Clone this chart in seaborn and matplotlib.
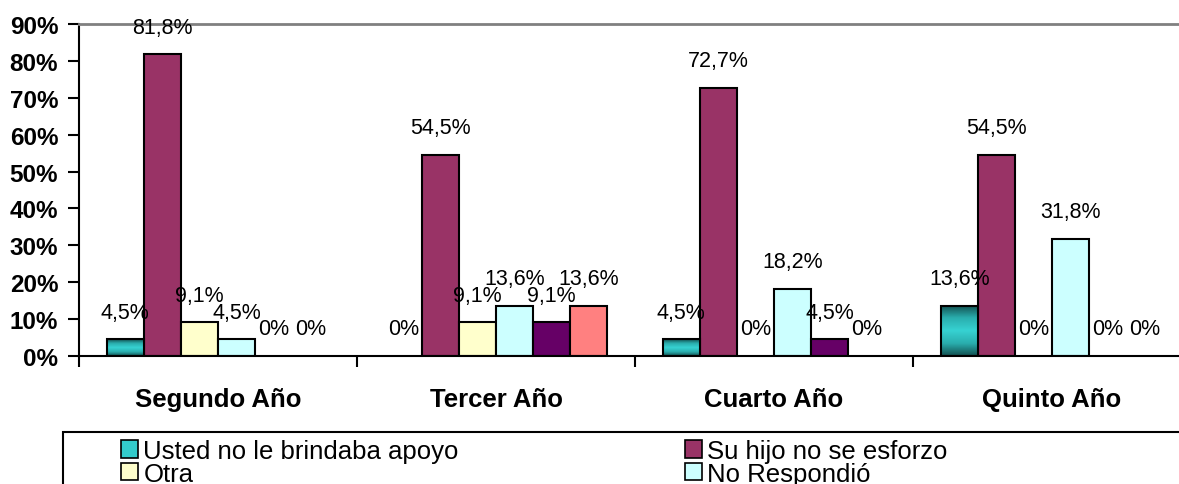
import numpy as np
import pandas as pd
import matplotlib
matplotlib.use("Agg")
import matplotlib.pyplot as plt
from matplotlib.patches import Patch, Rectangle
from matplotlib.colors import LinearSegmentedColormap
import seaborn as sns

# --- data -------------------------------------------------------------
years = ["Segundo Año", "Tercer Año", "Cuarto Año", "Quinto Año"]
series = ["Usted no le brindaba apoyo", "Su hijo no se esforzo", "Otra",
          "No Respondió", "Serie 5", "Serie 6"]
apoyo = [4.5, 0.0, 4.5, 13.6]
esfuerzo = [81.8, 54.5, 72.7, 54.5]
otra = [9.1, 9.1, 0.0, 0.0]
no_respondio = [4.5, 13.6, 18.2, 31.8]
serie5 = [0.0, 9.1, 4.5, 0.0]
serie6 = [0.0, 13.6, 0.0, 0.0]
yticks = [0, 10, 20, 30, 40, 50, 60, 70, 80, 90]

colors = ["#33CCCC", "#993366", "#FFFFCC", "#CCFFFF", "#660066", "#FF8080"]

values = [apoyo, esfuerzo, otra, no_respondio, serie5, serie6]
df = pd.DataFrame(
    [(y, s, v[i]) for s, v in zip(series, values) for i, y in enumerate(years)],
    columns=["Año", "Motivo", "Porcentaje"],
)

# --- figure -----------------------------------------------------------
sns.set_style("white")
plt.rcParams["font.family"] = ["Liberation Sans", "DejaVu Sans"]
plt.rcParams.update({"text.color": "black", "axes.labelcolor": "black",
                     "xtick.color": "black", "ytick.color": "black"})

W, H = 1179, 485
fig = plt.figure(figsize=(W / 100, H / 100), dpi=100)
ax = fig.add_axes([79 / W, (H - 357) / H, 1112 / W, 332 / H])

sns.barplot(data=df, x="Año", y="Porcentaje", hue="Motivo", order=years,
            hue_order=series, palette=colors, saturation=1, width=0.8,
            edgecolor="black", linewidth=1.5, legend=False, ax=ax)

# cylinder-like shading on the first series
teal_cmap = LinearSegmentedColormap.from_list(
    "teal", [(0.0, "#124e4e"), (0.25, "#2aaeae"), (0.5, "#36d2d2"),
             (0.75, "#2aaeae"), (1.0, "#124e4e")])
grad = np.linspace(0, 1, 256).reshape(-1, 1)
for bar in ax.containers[0]:
    if bar.get_height() > 0:
        x0, y0 = bar.get_x(), bar.get_y()
        x1, y1 = x0 + bar.get_width(), y0 + bar.get_height()
        im = ax.imshow(grad, cmap=teal_cmap, aspect="auto",
                       extent=[x0, x1, y0, y1], origin="lower", zorder=1.5,
                       interpolation="bilinear")
        im.set_clip_path(bar)
        bar.set_facecolor("none")
        bar.set_zorder(2)
ax.set_xlim(-0.5, 3.5)
ax.set_ylim(0, 90)

# hide zero-height bars and write value labels
for cont in ax.containers:
    for bar in cont:
        h = bar.get_height()
        if h == 0:
            bar.set_visible(False)
        txt = "0%" if h == 0 else f"{h:.1f}".replace(".", ",") + "%"
        ax.annotate(txt, (bar.get_x() + bar.get_width() / 2, h),
                    xytext=(0, 19.5), textcoords="offset points",
                    ha="center", va="center", fontsize=15.5, color="black",
                    annotation_clip=False)

# axes styling
ax.set_yticks(yticks)
ax.set_yticklabels([f"{t}%" for t in yticks], fontsize=17.5, fontweight="bold")
ax.tick_params(axis="y", direction="out", length=8, width=1.5, pad=7,
               left=True, colors="black")
ax.set_xticks(range(len(years)))
ax.set_xticklabels(years, fontsize=18.5, fontweight="bold", color="black")
ax.tick_params(axis="x", which="major", length=0, pad=22)
ax.set_xticks([-0.5, 0.5, 1.5, 2.5, 3.5], minor=True)
ax.tick_params(axis="x", which="minor", direction="out", length=8, width=1.5,
               bottom=True)
ax.set_xlabel("")
ax.set_ylabel("")
ax.grid(False)

for side in ("left", "bottom"):
    ax.spines[side].set_color("black")
    ax.spines[side].set_linewidth(1.5)
ax.spines["top"].set_color("#808080")
ax.spines["top"].set_linewidth(2)
ax.spines["right"].set_visible(False)

# legend box and entries
fig.patches.append(Rectangle((63 / W, -0.2), 1.2, (H - 433) / H + 0.2,
                             transform=fig.transFigure, fill=False,
                             edgecolor="black", linewidth=1.5))

handles = [Patch(facecolor=c, edgecolor="black", linewidth=1.2) for c in colors]
leg_kw = dict(frameon=False, fontsize=18.5, handlelength=0.65, handleheight=0.65,
              handletextpad=0.22, labelspacing=-0.05, borderpad=0,
              borderaxespad=0, loc="upper left", labelcolor="black")
leg1 = fig.legend([handles[0], handles[2]], [series[0], series[2]],
                  bbox_to_anchor=(121 / W, (H - 440) / H), **leg_kw)
leg2 = fig.legend([handles[1], handles[3]], [series[1], series[3]],
                  bbox_to_anchor=(685 / W, (H - 440) / H), **leg_kw)

fig.savefig("out.png", dpi=100)
